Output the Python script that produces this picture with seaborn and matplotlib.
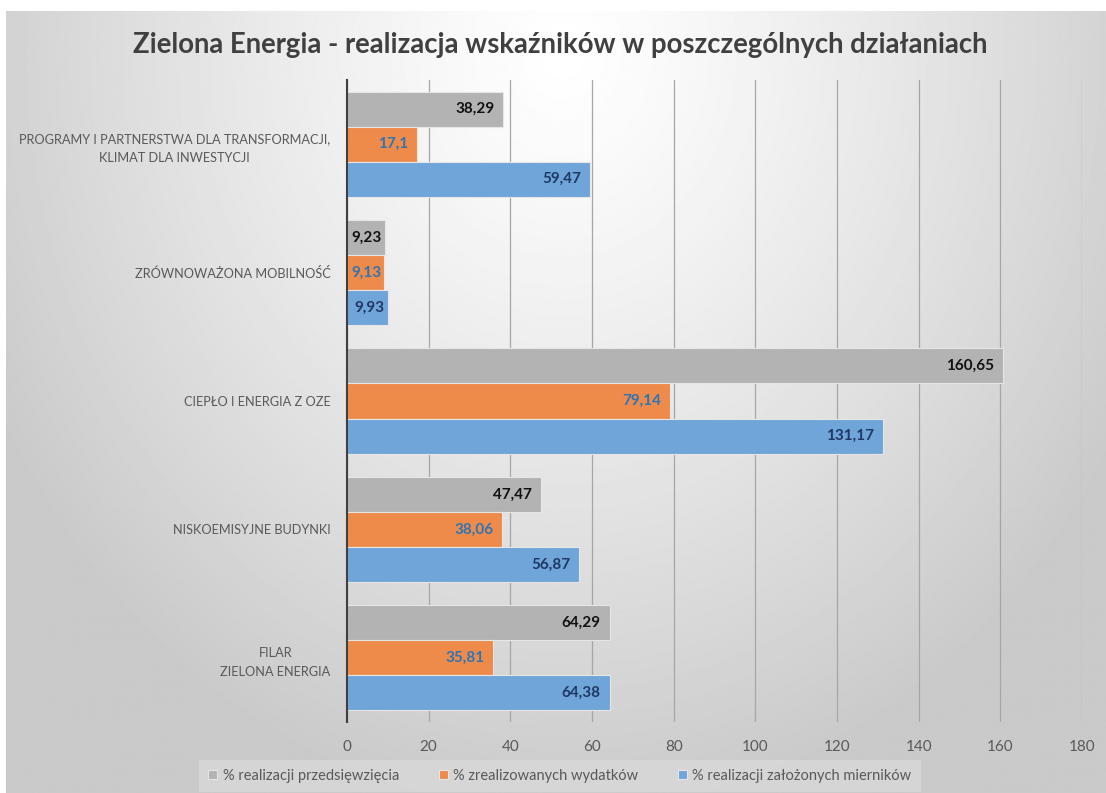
import numpy as np
import pandas as pd
import matplotlib
matplotlib.use("Agg")
import matplotlib.pyplot as plt
import seaborn as sns

# dane
kategorie = [
    "PROGRAMY I PARTNERSTWA DLA TRANSFORMACJI,\nKLIMAT DLA INWESTYCJI",
    "ZRÓWNOWAŻONA MOBILNOŚĆ",
    "CIEPŁO I ENERGIA Z OZE",
    "NISKOEMISYJNE BUDYNKI",
    "FILAR\nZIELONA ENERGIA",
]
serie = [
    "% realizacji przedsięwzięcia",
    "% zrealizowanych wydatków",
    "% realizacji założonych mierników",
]
przedsiewziecia = [38.29, 9.23, 160.65, 47.47, 64.29]
wydatki = [17.1, 9.13, 79.14, 38.06, 35.81]
mierniki = [59.47, 9.93, 131.17, 56.87, 64.38]

kolory = ["#b3b3b3", "#ee8b4a", "#6fa5d9"]
kolory_etykiet = ["#111111", "#2e75b6", "#1f3864"]

df = pd.DataFrame({
    "kategoria": kategorie * 3,
    "seria": [serie[0]] * 5 + [serie[1]] * 5 + [serie[2]] * 5,
    "wartosc": przedsiewziecia + wydatki + mierniki,
})

sns.set_theme(style="white")
plt.rcParams["font.family"] = ["Lato", "DejaVu Sans"]

W, H = 1106, 793
fig = plt.figure(figsize=(W / 100, H / 100), dpi=100)
fig.patch.set_facecolor("white")

# tło z gradientem
bg = fig.add_axes([6 / W, 0, 1 - 6 / W, 1 - 11 / H], zorder=-10)
yy, xx = np.mgrid[0:H, 0:W]
r = np.sqrt(((xx - 560) / 650) ** 2 + ((yy - 40) / 780) ** 2)
val = 1 - 0.21 * np.clip(r, 0, 1) ** 1.2
bg.imshow(val, cmap="gray", vmin=0, vmax=1, aspect="auto", interpolation="bilinear")
bg.set_axis_off()

ax = fig.add_axes([347 / W, 1 - 722 / H, (1082 - 347) / W, (722 - 80) / H])
ax.patch.set_alpha(0)

sns.barplot(data=df, y="kategoria", x="wartosc", hue="seria", orient="h",
            palette=kolory, width=0.82, ax=ax, saturation=1,
            edgecolor="#e6e6e6", linewidth=0.8, legend=True)

ax.set_xlim(0, 180)
ax.set_ylim(4.5, -0.5)

for cont, kol in zip(ax.containers, kolory_etykiet):
    for bar, v in zip(cont.patches, cont.datavalues):
        pad = -2 if v < 12 else -6.5
        ax.annotate(f"{v:g}".replace(".", ","),
                    xy=(bar.get_width(), bar.get_y() + bar.get_height() / 2),
                    xytext=(pad, 0), textcoords="offset points",
                    ha="right", va="center", fontsize=11, fontweight="bold", color=kol)

ax.set_xticks(range(0, 181, 20))
ax.grid(axis="x", color="#a6a6a6", linewidth=0.9)
ax.set_axisbelow(True)
for s in ["top", "right", "bottom"]:
    ax.spines[s].set_visible(False)
ax.spines["left"].set_color("#404040")
ax.spines["left"].set_linewidth(1.5)
ax.set_xlabel("")
ax.set_ylabel("")
ax.tick_params(axis="x", colors="#595959", labelsize=11, length=0, pad=13)
ax.tick_params(axis="y", colors="#595959", labelsize=9.2, length=0, pad=12)
for t in ax.get_yticklabels():
    t.set_multialignment("center")
    t.set_linespacing(1.7)

handles, labs = ax.get_legend_handles_labels()
ax.legend_.remove()
leg = fig.legend(handles, labs, loc="center", bbox_to_anchor=(560 / W, 1 - 776 / H),
                 ncol=3, frameon=True, fontsize=10.5, handlelength=0.6, handleheight=0.6,
                 columnspacing=2.7, handletextpad=0.4, borderpad=0.45)
leg.get_frame().set_facecolor("#d9d9d9")
leg.get_frame().set_edgecolor("none")
leg.get_frame().set_boxstyle("square", pad=0.2)
for t in leg.get_texts():
    t.set_color("#595959")

fig.text(560 / W, 1 - 45 / H, "Zielona Energia - realizacja wskaźników w poszczególnych działaniach",
         ha="center", va="center", fontsize=19.8, fontweight="bold", color="#404040")

fig.savefig("out.png", dpi=100)
